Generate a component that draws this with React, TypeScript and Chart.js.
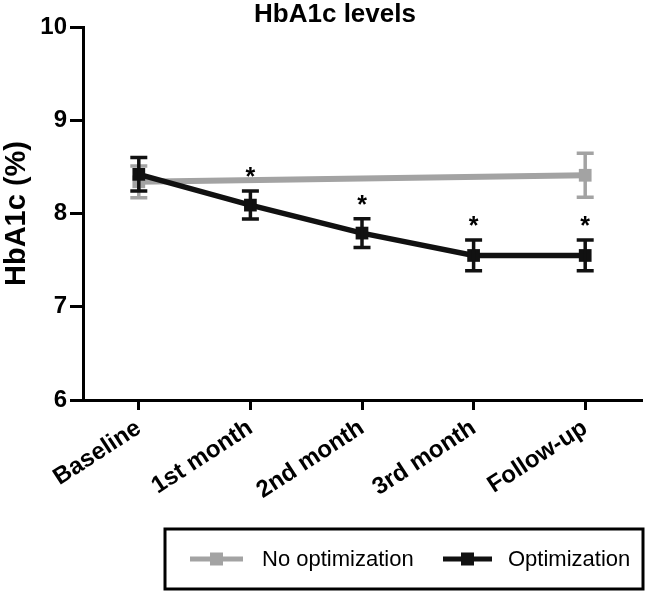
import React, { useEffect, useRef } from 'react';
import { Chart, registerables } from 'chart.js';

Chart.register(...registerables);

const categories = ['Baseline', '1st month', '2nd month', '3rd month', 'Follow-up'];
const noOptMean = [8.34, null, null, null, 8.41];
const noOptErr = [0.17, null, null, null, 0.235];
const optMean = [8.42, 8.09, 7.79, 7.55, 7.55];
const optErr = [0.18, 0.15, 0.155, 0.165, 0.165];
const significant = [false, true, true, true, true];
const yTicks = [6, 7, 8, 9, 10];

const FONT = '"Liberation Sans", Arial, Helvetica, sans-serif';
const GRAY = '#a3a3a3';
const BLACK = '#111111';

export default function App() {
  const ref = useRef<HTMLCanvasElement>(null);

  useEffect(() => {
    if (!ref.current) return;

    const errorBars = {
      id: 'errorBars',
      afterDatasetDraw(chart: any, args: any) {
        const ds = chart.data.datasets[args.index];
        const errs = ds.errors as (number | null)[];
        const stars = ds.stars as boolean[] | undefined;
        const y = chart.scales.y;
        const ctx = chart.ctx;
        ctx.save();
        ctx.strokeStyle = ds.borderColor;
        ctx.lineWidth = 3.5;
        args.meta.data.forEach((pt: any, i: number) => {
          const m = ds.data[i];
          const e = errs[i];
          if (m == null || e == null) return;
          const x = pt.x;
          const top = y.getPixelForValue(m + e);
          const bot = y.getPixelForValue(m - e);
          ctx.beginPath();
          ctx.moveTo(x, top);
          ctx.lineTo(x, bot);
          ctx.moveTo(x - 8.5, top);
          ctx.lineTo(x + 8.5, top);
          ctx.moveTo(x - 8.5, bot);
          ctx.lineTo(x + 8.5, bot);
          ctx.stroke();
          if (stars && stars[i]) {
            ctx.fillStyle = '#000';
            ctx.font = `bold 25px ${FONT}`;
            ctx.textAlign = 'center';
            ctx.textBaseline = 'alphabetic';
            ctx.fillText('*', x, top - 20 + 14);
          }
        });
        ctx.restore();
      },
    };

    const titleAndLegend = {
      id: 'titleAndLegend',
      afterDraw(chart: any) {
        const ctx = chart.ctx;
        ctx.save();
        // title
        ctx.fillStyle = '#000';
        ctx.font = `bold 26px ${FONT}`;
        ctx.textAlign = 'center';
        ctx.textBaseline = 'middle';
        ctx.fillText('HbA1c levels', 335, 15);
        // legend box
        const bx = 165, by = 529, bw = 478, bh = 60;
        ctx.strokeStyle = '#000';
        ctx.lineWidth = 3;
        ctx.strokeRect(bx, by, bw, bh);
        const cy = by + bh / 2;
        const items = chart.data.datasets.map((d: any) => ({ label: d.label, color: d.borderColor }));
        const pos = [
          { x0: 190, x1: 243, tx: 262 },
          { x0: 443, x1: 492, tx: 508 },
        ];
        items.forEach((it: any, i: number) => {
          const p = pos[i];
          ctx.strokeStyle = it.color;
          ctx.fillStyle = it.color;
          ctx.lineWidth = 5;
          ctx.beginPath();
          ctx.moveTo(p.x0, cy);
          ctx.lineTo(p.x1, cy);
          ctx.stroke();
          const mx = (p.x0 + p.x1) / 2;
          ctx.fillRect(mx - 6.5, cy - 6.5, 13, 13);
          ctx.fillStyle = '#000';
          ctx.font = `22px ${FONT}`;
          ctx.textAlign = 'left';
          ctx.textBaseline = 'middle';
          ctx.fillText(it.label, p.tx, cy + 1);
        });
        ctx.restore();
      },
    };

    const chart = new Chart(ref.current, {
      type: 'line',
      data: {
        labels: categories,
        datasets: [
          {
            label: 'No optimization',
            data: noOptMean,
            errors: noOptErr,
            borderColor: GRAY,
            backgroundColor: GRAY,
            borderWidth: 6,
            pointStyle: 'rect',
            pointRadius: 9,
            pointBorderWidth: 0,
            spanGaps: true,
            tension: 0,
            order: 1,
          } as any,
          {
            label: 'Optimization',
            data: optMean,
            errors: optErr,
            stars: significant,
            borderColor: BLACK,
            backgroundColor: BLACK,
            borderWidth: 5.5,
            pointStyle: 'rect',
            pointRadius: 9,
            pointBorderWidth: 0,
            tension: 0,
            order: 0,
          } as any,
        ],
      },
      options: {
        animation: false,
        responsive: false,
        maintainAspectRatio: false,
        layout: { padding: { top: 27, right: 7, left: 0, bottom: 0 } },
        plugins: {
          legend: { display: false },
          title: { display: false },
          tooltip: { enabled: false },
        },
        scales: {
          x: {
            type: 'category',
            offset: true,
            afterFit: (s: any) => { s.height = 196; },
            border: { display: true, color: '#000', width: 3 },
            grid: { drawOnChartArea: false, drawTicks: true, tickLength: 10, lineWidth: 3, color: '#000' },
            ticks: {
              color: '#000',
              font: { family: FONT, size: 24, weight: 'bold' },
              maxRotation: 33,
              minRotation: 33,
              padding: 4,
            },
          },
          y: {
            min: 6,
            max: 10,
            afterFit: (s: any) => { s.width = 83; },
            afterBuildTicks: (s: any) => { s.ticks = yTicks.map((v) => ({ value: v })); },
            border: { display: true, color: '#000', width: 3 },
            grid: { drawOnChartArea: false, drawTicks: true, tickLength: 13, lineWidth: 3, color: '#000' },
            ticks: {
              color: '#000',
              font: { family: FONT, size: 24, weight: 'bold' },
              padding: 3,
            },
            title: {
              display: true,
              text: 'HbA1c (%)',
              color: '#000',
              font: { family: FONT, size: 29, weight: 'bold' },
              padding: 0,
            },
          },
        },
      },
      plugins: [errorBars, titleAndLegend],
    } as any);

    return () => chart.destroy();
  }, []);

  return (
    <div style={{ position: 'absolute', left: 0, top: 0, width: 650, height: 596, background: '#fff' }}>
      <canvas ref={ref} width={650} height={596} style={{ display: 'block', width: 650, height: 596 }} />
    </div>
  );
}
